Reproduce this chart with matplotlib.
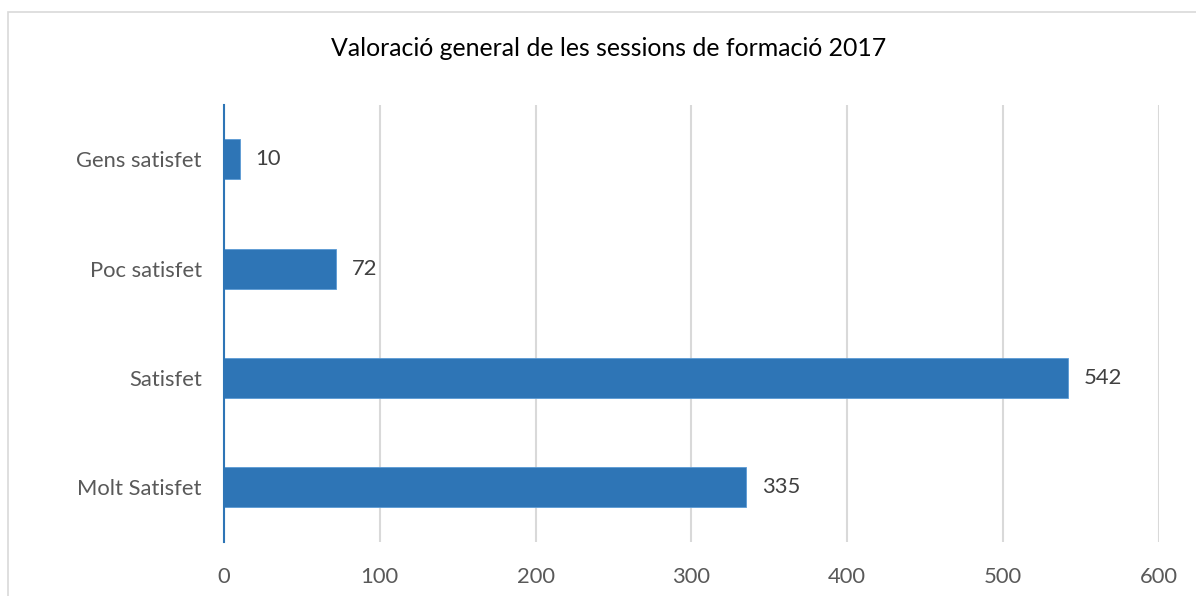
import matplotlib.pyplot as plt
from matplotlib.patches import Rectangle

categories = ["Molt Satisfet", "Satisfet", "Poc satisfet", "Gens satisfet"]
values = [335, 542, 72, 10]
x_ticks = [0, 100, 200, 300, 400, 500, 600]

plt.rcParams['font.family'] = ['Lato', 'DejaVu Sans']

fig = plt.figure(figsize=(11.96, 5.96), dpi=100)
ax = fig.add_axes([224 / 1196, 1 - 542 / 596, 934.5 / 1196, 437.5 / 596])

# chart frame (runs off the right and bottom of the picture)
fig.patches.append(Rectangle((8 / 1196, -0.1), 1.2, 1 - 12 / 596 + 0.1,
                             transform=fig.transFigure, fill=False,
                             edgecolor="#D9D9D9", linewidth=1.2))

pos = list(range(len(categories)))
ax.barh(pos, values, height=0.365, color="#2E75B6", edgecolor="#5B9BD5", linewidth=0.6, zorder=3)

for p, v in zip(pos, values):
    ax.annotate(str(v), (v, p), xytext=(11.5, 0), textcoords="offset points",
                va="center", ha="left", fontsize=15.8, color="#404040")

ax.set_xlim(0, 600)
ax.set_ylim(-0.5, 3.5)
ax.set_xticks(x_ticks)
ax.set_yticks(pos)
ax.set_yticklabels(categories)
ax.tick_params(length=0, labelsize=15.8, labelcolor="#595959")
ax.tick_params(axis="x", pad=18)
ax.tick_params(axis="y", pad=16)

ax.grid(axis="x", color="#D9D9D9", linewidth=1.5, zorder=0)
ax.set_axisbelow(True)
for side in ["top", "right", "bottom"]:
    ax.spines[side].set_visible(False)
ax.spines["left"].set_color("#2E75B6")
ax.spines["left"].set_linewidth(1.5)
ax.spines["left"].set_zorder(4)

fig.text(609 / 1196, 1 - 48 / 596, "Valoració general de les sessions de formació 2017",
         ha="center", va="center", fontsize=17.9, color="#000000")

fig.savefig("out.png", dpi=100)
plt.close()
